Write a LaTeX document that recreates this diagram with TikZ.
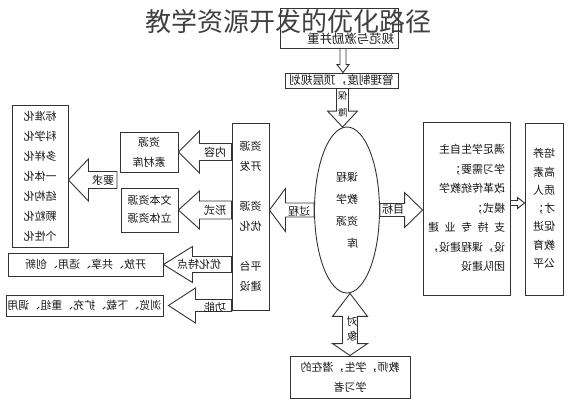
\documentclass[tikz,border=0pt]{standalone}
\usepackage{fontspec}
\setmainfont{Noto Sans CJK SC}
\usetikzlibrary{shapes.geometric,calc}

% mirrored text block, as the picture prints it
\newcommand{\flip}[2][c]{\reflectbox{\begin{tabular}{@{}#1@{}}#2\end{tabular}}}
% block arrows: tail, tip, shaft half width, head half width, head length
\newcommand{\harrow}[5]{%
  \draw[fatarrow] let \p1=(#1), \p2=(#2), \p3=($(#2)!#5!(#1)$) in
    (\x1,\y2+#3) -- (\x3,\y2+#3) -- (\x3,\y2+#4) -- (\x2,\y2)
    -- (\x3,\y2-#4) -- (\x3,\y2-#3) -- (\x1,\y2-#3) -- cycle;}
\newcommand{\varrow}[5]{%
  \draw[fatarrow] let \p1=(#1), \p2=(#2), \p3=($(#2)!#5!(#1)$) in
    (\x2+#3,\y1) -- (\x2+#3,\y3) -- (\x2+#4,\y3) -- (\x2,\y2)
    -- (\x2-#4,\y3) -- (\x2-#3,\y3) -- (\x2-#3,\y1) -- cycle;}

\tikzset{
  box/.style={draw=black!80, line width=0.9pt, fill=white, inner sep=0pt, text=black!90},
  fatarrow/.style={draw=black!80, line width=0.9pt, fill=white},
  lbl/.style={text=black!90, inner sep=0pt},
}

\begin{document}
\begin{tikzpicture}[x=1pt,y=-1pt,font=\fontsize{11}{20}\selectfont]
\useasboundingbox (0,0) rectangle (573,400);

% top of the path
\node[box, minimum width=118pt, minimum height=40pt, inner sep=2pt, text width=110pt, align=right,
  text height=31pt, text depth=1pt, font=\fontsize{12.4}{14}\selectfont]
  (guifan) at (339,28) {\reflectbox{规范与激励并重}};
\node[box, minimum width=113pt, minimum height=15pt, font=\fontsize{11.6}{14}\selectfont]
  (guanli) at (341.5,80.5) {\reflectbox{管理制度，顶层规划}};
\node[box, ellipse, minimum width=65pt, minimum height=166pt] (kcjx) at (347,210)
  {\fontsize{11}{22}\selectfont\flip[l]{课程\\教学\\资源\\库}};

% left side
\node[box, minimum width=37pt, minimum height=187pt] (col) at (250.5,216.5)
  {\flip{资源\\开发\\ \\资源\\优化\\ \\平台\\建设}};
\node[box, minimum width=58pt, minimum height=40pt] (sucai) at (149,152) {\flip{资源\\素材库}};
\node[box, minimum width=57pt, minimum height=44pt] (wenben) at (149.5,210)
  {\fontsize{11}{18}\selectfont\flip{文本资源\\立体资源}};
\node[box, minimum width=56pt, minimum height=142pt] (biaozhun) at (40,176)
  {\flip{标准化\\科学化\\多样化\\一体化\\结构化\\颗粒化\\个性化}};
\node[box, minimum width=155pt, minimum height=23pt] (kaifang) at (85.5,264.5) {\reflectbox{开放、共享、适用、创新}};
\node[box, minimum width=157pt, minimum height=21pt] (liulan) at (84.5,305.5) {\reflectbox{浏览、下载、扩充、重组、调用}};

% right side
\node[box, minimum width=87pt, minimum height=173pt] (zhichi) at (466.5,208.5)
  {\fontsize{11}{19.5}\selectfont\flip[l]{满足学生自主\\学习需要；\\改革传统教学\\模式；\\
   \makebox[7em][s]{支\hfill 持\hfill 专\hfill 业\hfill 建}\\设，课程建设，\\团队建设}};
\node[box, minimum width=38pt, minimum height=172pt] (peiyang) at (544,209)
  {\fontsize{11}{18.3}\selectfont\flip{培养\\高素\\质人\\才；\\促进\\教育\\公平}};

% bottom
\node[box, minimum width=120pt, minimum height=42pt] (duixiang) at (350,377) {\flip{教师，学生，潜在的\\学习者}};

% block arrows
\varrow{guifan.south}{$(guanli.north)+(1.5,0)$}{3pt}{6pt}{8pt}
\varrow{guanli.south}{$(kcjx.north)+(-4.5,0.5)$}{6pt}{15pt}{16pt}
\harrow{kcjx.west}{col.east |- kcjx}{7pt}{21.5pt}{16pt}
\harrow{kcjx.east}{zhichi.west |- kcjx}{6.5pt}{17.5pt}{18pt}
\harrow{zhichi.east |- 0,203}{peiyang.west |- 0,203}{2.5pt}{5.5pt}{7pt}
\harrow{col.west |- sucai}{sucai.east}{8.5pt}{21pt}{21pt}
\harrow{col.west |- wenben}{wenben.east}{9pt}{19pt}{21pt}
\harrow{col.west |- kaifang}{kaifang.east}{8pt}{18pt}{29pt}
\harrow{col.west |- liulan}{$(liulan.east)+(5,0)$}{6pt}{17.5pt}{27pt}
\coordinate (yqtail) at (117,180);
\harrow{yqtail}{biaozhun.east |- yqtail}{8.5pt}{21pt}{20pt}
\draw[fatarrow] let \p1=(kcjx.south), \p2=(duixiang.north),
    \p3=($(kcjx.south)!23pt!(duixiang.north)$), \p4=($(duixiang.north)!12pt!(kcjx.south)$) in
  (\x2,\y1) -- (\x2+17.5pt,\y3) -- (\x2+7.5pt,\y3) -- (\x2+7.5pt,\y4) -- (\x2+17.5pt,\y4)
  -- (\x2,\y2) -- (\x2-17.5pt,\y4) -- (\x2-7.5pt,\y4) -- (\x2-7.5pt,\y3) -- (\x2-17.5pt,\y3) -- cycle;

% arrow labels
\node[lbl] (baozhang) at (342.5,105) {\fontsize{9.5}{17}\selectfont\flip{保\\障}};
\node[lbl] (guocheng) at (299,211) {\reflectbox{过程}};
\node[lbl] (mubiao) at (393,209) {\reflectbox{目标}};
\node[lbl] (neirong) at (215,152) {\reflectbox{内容}};
\node[lbl] (xingshi) at (215,210) {\reflectbox{形式}};
\node[lbl] (tedian) at (199,264) {\reflectbox{优化特点}};
\node[lbl] (gongneng) at (215,307) {\reflectbox{功能}};
\node[lbl] (yaoqiu) at (103,180) {\reflectbox{要求}};
\node[lbl] (duixianglbl) at (352,330) {\fontsize{11}{15}\selectfont\flip{对\\象}};

% title
\node[text=black!75, font=\fontsize{26}{30}\selectfont, inner sep=0pt] (title) at (288,22) {教学资源开发的优化路径};
\end{tikzpicture}
\end{document}
